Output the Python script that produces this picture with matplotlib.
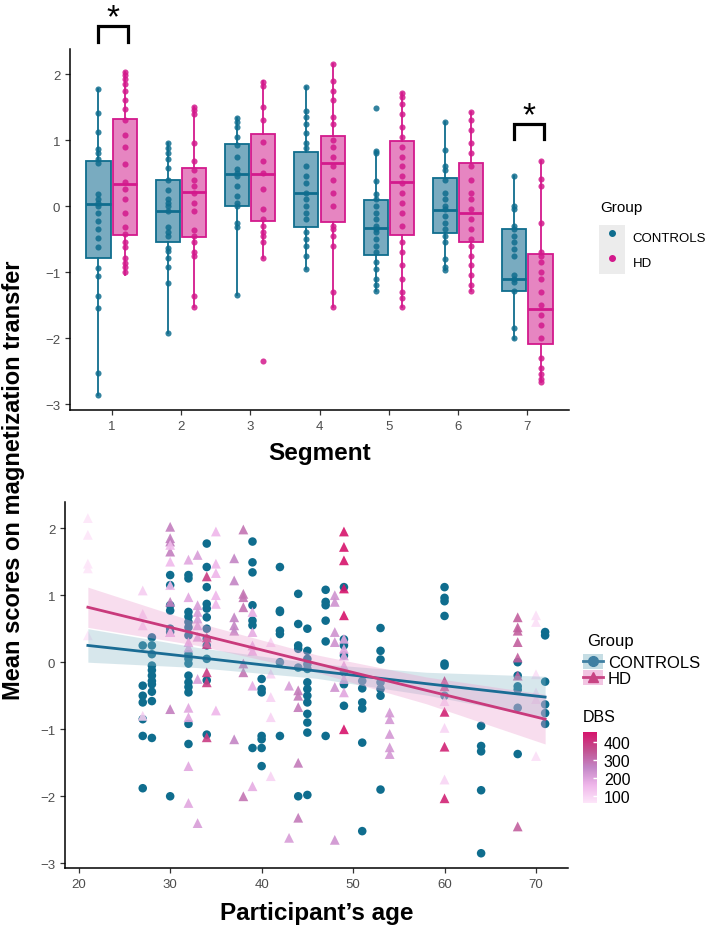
import numpy as np
import matplotlib.pyplot as plt
from matplotlib.colors import LinearSegmentedColormap, Normalize
from matplotlib.patches import Patch
from matplotlib.lines import Line2D

plt.rcParams['font.family'] = ['Liberation Sans', 'DejaVu Sans']

# ---- top panel: scores per segment ----
segments = [1, 2, 3, 4, 5, 6, 7]

ctrl_q3 = [0.69, 0.39, 0.94, 0.82, 0.09, 0.42, -0.34]
ctrl_med = [0.03, -0.08, 0.48, 0.20, -0.33, -0.06, -1.10]
ctrl_q1 = [-0.78, -0.54, 0.00, -0.31, -0.74, -0.41, -1.28]
ctrl_whi = [1.77, 0.95, 1.34, 1.80, 0.84, 1.27, 0.45]
ctrl_wlo = [-2.86, -1.92, -1.35, -0.96, -1.29, -0.97, -2.02]

hd_q3 = [1.32, 0.57, 1.09, 1.06, 0.98, 0.66, -0.73]
hd_med = [0.33, 0.21, 0.48, 0.65, 0.36, -0.11, -1.56]
hd_q1 = [-0.44, -0.47, -0.22, -0.24, -0.44, -0.55, -2.09]
hd_whi = [2.03, 1.50, 1.90, 2.15, 1.71, 1.43, 0.68]
hd_wlo = [-1.05, -1.53, -0.78, -1.53, -1.53, -1.28, -2.67]

ctrl_pts = [
    [1.77, 1.41, 1.12, 0.86, 0.8, 0.72, 0.65, 0.18, 0.1, 0.05, 0.0, -0.1, -0.22, -0.34, -0.49, -0.62, -0.94, -1.06, -1.37, -1.55, -2.53, -2.86],
    [0.95, 0.88, 0.8, 0.72, 0.58, 0.4, 0.25, 0.1, 0.05, 0.0, -0.08, -0.32, -0.4, -0.46, -0.63, -0.68, -0.79, -0.93, -1.16, -1.92],
    [1.34, 1.28, 1.2, 1.05, 0.92, 0.75, 0.56, 0.5, 0.45, 0.3, 0.15, 0.05, 0.0, -0.25, -0.32, -1.35],
    [1.8, 1.44, 1.35, 1.25, 1.1, 0.95, 0.88, 0.6, 0.46, 0.35, 0.2, 0.1, 0.0, -0.1, -0.2, -0.4, -0.5, -0.6, -0.75, -0.96],
    [1.48, 0.84, 0.8, 0.38, 0.18, 0.1, 0.0, -0.1, -0.2, -0.3, -0.35, -0.4, -0.5, -0.6, -0.7, -0.85, -0.95, -1.1, -1.2, -1.29],
    [1.27, 0.85, 0.61, 0.55, 0.4, 0.2, 0.1, 0.0, -0.05, -0.15, -0.25, -0.35, -0.45, -0.55, -0.8, -0.92, -0.97],
    [0.45, 0.0, -0.05, -0.3, -0.35, -0.45, -0.55, -0.65, -0.75, -1.05, -1.1, -1.15, -1.28, -1.85, -2.0],
]
hd_pts = [
    [2.03, 1.98, 1.92, 1.85, 1.75, 1.6, 1.47, 1.3, 1.07, 0.89, 0.64, 0.36, 0.26, 0.1, -0.1, -0.32, -0.42, -0.55, -0.62, -0.78, -0.87, -0.93, -1.0],
    [1.5, 1.45, 1.4, 0.96, 0.68, 0.55, 0.4, 0.3, 0.2, 0.05, -0.07, -0.36, -0.46, -0.55, -0.7, -0.75, -1.37, -1.53],
    [1.88, 1.82, 1.5, 1.3, 0.97, 0.68, 0.5, 0.26, -0.05, -0.2, -0.3, -0.4, -0.45, -0.55, -0.78, -2.35],
    [2.15, 1.9, 1.75, 1.6, 1.35, 1.25, 1.0, 0.9, 0.75, 0.6, 0.4, 0.2, 0.0, -0.3, -0.35, -0.45, -0.6, -1.3, -1.53],
    [1.71, 1.65, 1.55, 1.4, 1.2, 1.05, 0.9, 0.75, 0.6, 0.45, 0.35, 0.2, 0.05, -0.1, -0.3, -0.55, -0.7, -0.9, -1.1, -1.3, -1.4, -1.53],
    [1.43, 1.3, 1.15, 0.95, 0.8, 0.6, 0.4, 0.2, 0.1, -0.05, -0.2, -0.35, -0.5, -0.6, -0.75, -0.9, -1.05, -1.2, -1.28],
    [0.68, 0.41, 0.3, -0.25, -0.7, -0.75, -0.85, -1.0, -1.1, -1.3, -1.5, -1.65, -1.8, -2.0, -2.3, -2.45, -2.55, -2.62, -2.67],
]
signif_segments = [1, 7]
signif_y = [(2.48, 2.73), (1.02, 1.24)]

# ---- bottom panel: scores vs age ----
ctrl_ages = [27, 28, 30, 32, 34, 39, 40, 42, 44, 45, 47, 49, 51, 53, 60, 64, 68, 71]
ctrl_vals = [
    [0.25, -0.35, -0.5, -0.6, -0.85, -1.1, -1.88],
    [0.37, 0.25, 0.12, -0.05, -0.12, -0.2, -0.28, -0.33, -0.44, -0.58, -1.13],
    [1.3, 1.15, 0.85, 0.77, 0.45, 0.5, -2.0],
    [1.3, 1.25, 0.75, 0.68, 0.6, 0.52, 0.4, 0.12, 0.05, -0.02, -0.2, -0.3, -0.37, -0.45, -0.92, -1.22],
    [1.77, 1.42, 1.12, 0.87, 0.8, 0.67, 0.5, 0.35, 0.25, 0.05, -0.27, -1.08],
    [1.8, 1.49, 1.34, 0.85, 0.62, 0.55, -1.28],
    [-0.25, -0.4, -0.45, -1.1, -1.15, -1.28, -1.55],
    [1.42, 0.77, 0.75, 0.47, 0.42, 0.0, -1.1],
    [1.02, 0.57, 0.25, 0.2, -0.08, -2.0],
    [0.5, 0.17, 0.05, -0.03, -0.1, -0.3, -0.4, -0.5, -0.6, -0.77, -0.9, -1.05, -1.98],
    [1.08, 0.9, 0.85, 0.62, 0.31, -1.1],
    [1.12, 0.34, 0.25, 0.1, -0.15, -0.33, -0.65],
    [-0.28, -0.39, -0.6, -0.69, -1.2, -2.52],
    [0.51, 0.17, 0.04, -0.3, -0.4, -0.5, -1.9],
    [1.12, 0.96, 0.91, 0.69, -0.02, -0.05, -0.5],
    [-0.95, -1.25, -1.33, -1.91, -2.85],
    [0.0, -0.2, -0.36, -0.41, -0.68, -1.37],
    [0.45, 0.4, -0.29, -0.63, -0.76, -0.92],
]

hd_ages = [21, 27, 30, 30, 32, 33, 34, 35, 37, 38, 39, 41, 43, 44, 48, 49, 49, 54, 60, 60, 68, 70]
hd_dbs = [60, 110, 270, 150, 190, 210, 390, 160, 260, 290, 180, 100, 210, 280, 230, 455, 190, 220, 430, 95, 330, 75]
hd_vals = [
    [2.15, 1.9, 1.47, 1.4, 0.4],
    [1.07, 0.72, 0.55, -0.8],
    [2.02, 1.85, 1.8, 1.65, 0.9, 0.45, -0.7],
    [1.75, 1.5, 1.15, 0.45],
    [1.53, 0.97, 0.3, 0.22, -0.68, -0.82, -1.55, -2.1],
    [1.6, 0.85, 0.75, 0.65, 0.55, 0.38, -0.25, -2.4],
    [1.28, 0.37, 0.27, -0.15, -0.3, -1.12],
    [1.95, 1.47, 1.33, 1.0, 0.87, -0.72],
    [1.55, 1.22, 0.67, 0.55, 0.47, -1.15],
    [1.98, 1.02, 0.97, 0.82, -0.02, -0.15, -2.0],
    [0.75, 0.45, 0.25, 0.17, -0.35, -1.85],
    [0.3, -0.17, -0.52, -0.82, -1.7],
    [-0.35, -2.62],
    [-0.42, -0.5, -0.67, -1.5, -2.32],
    [1.0, 0.9, 0.45, 0.3, -0.37, -2.65],
    [1.95, 1.72, 1.52, 1.1, 0.7, -1.0],
    [0.35, 0.2, 0.1, -0.05, -0.25, -0.45],
    [-0.75, -0.85, -1.07, -1.27, -1.37],
    [-0.28, -0.36, -0.74, -1.26, -2.03],
    [-0.58, -0.98, -1.75],
    [0.67, 0.52, 0.47, 0.3, 0.07, -0.2, -2.45],
    [0.7, 0.6, -0.18, -0.45, -0.55, -1.4],
]

# linear fits with 95% CI
fit_age = [21, 33, 46, 58, 71]
ctrl_fit = [0.25, 0.07, -0.13, -0.32, -0.52]
ctrl_lo = [0.00, -0.08, -0.24, -0.49, -0.83]
ctrl_hi = [0.50, 0.22, -0.02, -0.15, -0.21]
hd_fit = [0.82, 0.42, -0.02, -0.42, -0.85]
hd_lo = [0.52, 0.25, -0.15, -0.62, -1.22]
hd_hi = [1.12, 0.59, 0.11, -0.22, -0.48]

ctrl_col = '#0f6d8e'
hd_col = '#d3198c'
ctrl_fill = '#79abc0'
hd_fill = '#e685c1'
tick_col = '#4d4d4d'

fig = plt.figure(figsize=(7.09, 9.28), dpi=100)

# ------------------ top ------------------
ax1 = fig.add_axes([70/709, 1-411/928, 499/709, 361/928])
off = 0.19
for stats_src, pts, sign, col, fill in [
        ((ctrl_q1, ctrl_med, ctrl_q3, ctrl_wlo, ctrl_whi), ctrl_pts, -1, ctrl_col, ctrl_fill),
        ((hd_q1, hd_med, hd_q3, hd_wlo, hd_whi), hd_pts, 1, hd_col, hd_fill)]:
    q1, med, q3, wlo, whi = stats_src
    stats = [dict(q1=q1[i], med=med[i], q3=q3[i], whislo=wlo[i], whishi=whi[i], fliers=[])
             for i in range(len(segments))]
    pos = [s + sign*off for s in segments]
    ax1.bxp(stats, positions=pos, widths=0.35, patch_artist=True, showcaps=False,
            boxprops=dict(facecolor=fill, edgecolor=col, lw=1.3),
            whiskerprops=dict(color=col, lw=1.3),
            medianprops=dict(color=col, lw=2.0), zorder=2)
    for p, vals in zip(pos, pts):
        ax1.plot([p]*len(vals), vals, 'o', color=col, ms=4.4, alpha=0.85, mec='none', zorder=3)

ax1.set_xlim(0.4, 7.6)
ax1.set_ylim(-3.09, 2.38)
ax1.set_xticks(segments)
ax1.set_xticklabels([str(s) for s in segments])
ax1.set_yticks([-3, -2, -1, 0, 1, 2])

# significance brackets
for s, (y0, y1) in zip(signif_segments, signif_y):
    ax1.plot([s-0.19, s-0.19, s+0.24, s+0.24], [y0, y1, y1, y0], color='black', lw=2.3,
             clip_on=False, solid_joinstyle='miter')
    ax1.text(s+0.025, y1, '*', ha='center', va='baseline', fontsize=24, clip_on=False)

ax1.set_xlabel('Segment', fontsize=17.5, fontweight='bold', labelpad=7)

fig.text(600/709, 1-208/928, 'Group', fontsize=11, va='center', ha='left')
h_top = [(Patch(fc='#ececec', ec='none'), Line2D([], [], marker='o', ls='', color=ctrl_col, ms=4)),
         (Patch(fc='#ececec', ec='none'), Line2D([], [], marker='o', ls='', color=hd_col, ms=4))]
fig.legend(h_top, ['CONTROLS', 'HD'], loc='upper left',
           bbox_to_anchor=(599/709, 1-226/928), frameon=False, fontsize=9.5,
           handlelength=1.95, handleheight=2.5, labelspacing=0, handletextpad=0.6,
           borderpad=0, borderaxespad=0)

# ------------------ bottom ------------------
ax2 = fig.add_axes([65/709, 1-869/928, 503/709, 366/928])

cmap = LinearSegmentedColormap.from_list('dbs', ['#fde6f9', '#efb6ea', '#c386c6', '#c2508f', '#d6146c'],
                                         N=256)
norm = Normalize(vmin=min(hd_dbs), vmax=max(hd_dbs))

cx = [a for a, v in zip(ctrl_ages, ctrl_vals) for _ in v]
cy = [y for v in ctrl_vals for y in v]
ax2.scatter(cx, cy, s=38, marker='o', color=ctrl_col, edgecolors='none', zorder=3)

hx = [a for a, v in zip(hd_ages, hd_vals) for _ in v]
hy = [y for v in hd_vals for y in v]
hc = [d for d, v in zip(hd_dbs, hd_vals) for _ in v]
sc = ax2.scatter(hx, hy, s=50, marker='^', c=hc, cmap=cmap, norm=norm, edgecolors='none',
                 alpha=0.9, zorder=3)

ax2.fill_between(fit_age, ctrl_lo, ctrl_hi, color='#8fbccb', alpha=0.35, lw=0, zorder=4)
ax2.fill_between(fit_age, hd_lo, hd_hi, color='#ec9fcf', alpha=0.35, lw=0, zorder=4)
ax2.plot(fit_age, ctrl_fit, color='#1a6c94', lw=2, zorder=5)
ax2.plot(fit_age, hd_fit, color='#c93a7c', lw=2, zorder=5)

ax2.set_xlim(18.5, 73.5)
ax2.set_ylim(-3.07, 2.39)
ax2.set_xticks([20, 30, 40, 50, 60, 70])
ax2.set_yticks([-3, -2, -1, 0, 1, 2])
ax2.set_xlabel('Participant\u2019s age', fontsize=17.5, fontweight='bold', labelpad=8)

fig.text(587/709, 1-642/928, 'Group', fontsize=12, va='center', ha='left')
h_bot = [(Patch(fc='#c5dde4', ec='none'),
          Line2D([], [], marker='o', color='#3f7fa2', ms=7, lw=2)),
         (Patch(fc='#f2c5e2', ec='none'),
          Line2D([], [], marker='^', color='#c84483', ms=7.5, lw=2))]
fig.legend(h_bot, ['CONTROLS', 'HD'], loc='upper left',
           bbox_to_anchor=(583/709, 1-655/928), frameon=False, fontsize=12,
           handlelength=1.2, handleheight=1.0, labelspacing=0, handletextpad=0.3,
           borderpad=0, borderaxespad=0)

fig.text(583/709, 1-718/928, 'DBS', fontsize=11.5, va='center', ha='left')
cax = fig.add_axes([583/709, 1-804/928, 14/709, 71/928])
cb = fig.colorbar(sc, cax=cax, ticks=[100, 200, 300, 400])
cb.outline.set_visible(False)
cb.solids.set_alpha(1)
cax.tick_params(labelsize=11.5, color='white', length=3, width=1, direction='in', pad=5)

for ax in (ax1, ax2):
    for sp in ('top', 'right'):
        ax.spines[sp].set_visible(False)
    for sp in ('left', 'bottom'):
        ax.spines[sp].set_linewidth(1.1)
    ax.tick_params(labelsize=9.5, labelcolor=tick_col, color='#333333', length=3.5, width=0.9)

fig.text(0.019, 0.483, 'Mean scores on magnetization transfer', rotation=90, ha='center',
         va='center', fontsize=17, fontweight='bold')

plt.savefig('out.png', dpi=100)
